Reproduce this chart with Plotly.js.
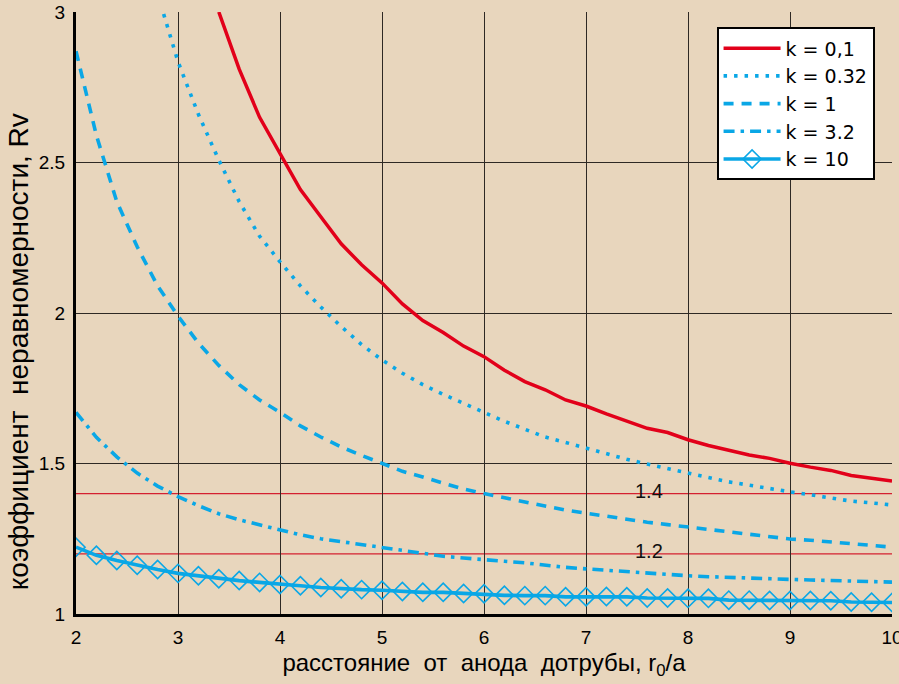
<!DOCTYPE html>
<html>
<head>
<meta charset="utf-8">
<script src="https://cdn.plot.ly/plotly-3.0.1.min.js"></script>
<style>
html,body{margin:0;padding:0;background:#e8d6bd;}
#chart{width:899px;height:684px;}
</style>
</head>
<body>
<div id="chart"></div>
<script>
// r0/a values (step 0.2)
const xFull = [2.0,2.2,2.4,2.6,2.8,3.0,3.2,3.4,3.6,3.8,4.0,4.2,4.4,4.6,4.8,5.0,5.2,5.4,5.6,5.8,6.0,6.2,6.4,6.6,6.8,7.0,7.2,7.4,7.6,7.8,8.0,8.2,8.4,8.6,8.8,9.0,9.2,9.4,9.6,9.8,10.0];

const xK01 = xFull.slice(7);   // from 3.4
const yK01 = [3.0,2.81,2.65,2.53,2.41,2.32,2.23,2.16,2.10,2.03,1.975,1.935,1.89,1.855,1.81,1.772,1.745,1.711,1.691,1.665,1.642,1.617,1.603,1.579,1.560,1.543,1.528,1.517,1.501,1.488,1.477,1.460,1.450,1.442];

const xK032 = xFull.slice(4);  // from 2.8
const yK032 = [3.06,2.835,2.66,2.508,2.37,2.255,2.17,2.09,2.02,1.955,1.895,1.844,1.80,1.762,1.730,1.700,1.667,1.640,1.614,1.588,1.570,1.551,1.531,1.514,1.498,1.483,1.468,1.452,1.439,1.428,1.416,1.406,1.396,1.386,1.375,1.369,1.362];

const yK1 = [2.87,2.59,2.37,2.22,2.09,1.99,1.90,1.826,1.762,1.711,1.670,1.625,1.588,1.555,1.527,1.501,1.474,1.455,1.435,1.415,1.400,1.386,1.372,1.358,1.345,1.335,1.324,1.314,1.305,1.297,1.289,1.282,1.274,1.265,1.256,1.249,1.245,1.240,1.234,1.228,1.222];

const yK32 = [1.67,1.587,1.522,1.468,1.425,1.390,1.360,1.333,1.313,1.296,1.280,1.263,1.250,1.240,1.229,1.219,1.210,1.200,1.192,1.186,1.179,1.175,1.170,1.161,1.155,1.150,1.145,1.141,1.137,1.132,1.127,1.124,1.121,1.118,1.116,1.115,1.113,1.111,1.110,1.108,1.106];

const yK10 = [1.222,1.195,1.178,1.162,1.148,1.135,1.127,1.117,1.111,1.105,1.098,1.094,1.088,1.084,1.081,1.079,1.075,1.072,1.072,1.068,1.067,1.062,1.061,1.061,1.057,1.057,1.058,1.057,1.053,1.053,1.052,1.052,1.046,1.046,1.045,1.045,1.045,1.044,1.040,1.039,1.038];

const seriesNames = ['k = 0,1','k = 0.32','k = 1','k = 3.2','k = 10'];
const refLevels = [1.4, 1.2];
const refLabels = ['1.4', '1.2'];
const refLabelX = 7.62;
const xTicks = [2,3,4,5,6,7,8,9,10];
const yTicks = [1,1.5,2,2.5,3];
const yTickText = ['1','1.5','2','2.5','3'];
const yGrid = [1.5, 2, 2.5];
const xTitle = 'расстояние\u00a0\u00a0от\u00a0\u00a0анода\u00a0\u00a0дотрубы, r<sub>0</sub>/a';
const yTitle = 'коэффициент\u00a0\u00a0неравномерности, Rv';

const RED = '#e2001a';
const BLUE = '#0aa7e6';
const BG = '#e8d6bd';
const GRID = '#2e2924';
const FONT = 'Liberation Sans, Arial, Helvetica, sans-serif';
const NARROW = 'Liberation Sans Narrow, Liberation Sans, Arial, sans-serif';

const traces = [
  {x: xK01, y: yK01, name: seriesNames[0], mode: 'lines', line: {color: RED, width: 3.5}},
  {x: xK032, y: yK032, name: seriesNames[1], mode: 'lines', line: {color: BLUE, width: 3.6, dash: '3.5px,7px'}},
  {x: xFull, y: yK1, name: seriesNames[2], mode: 'lines', line: {color: BLUE, width: 3.6, dash: '10px,8px'}},
  {x: xFull, y: yK32, name: seriesNames[3], mode: 'lines', line: {color: BLUE, width: 3.6, dash: '11px,6px,3.5px,6px'}},
  {x: xFull, y: yK10, name: seriesNames[4], mode: 'lines+markers', line: {color: BLUE, width: 3.6},
   marker: {symbol: 'diamond-open', size: 14, color: BLUE, line: {color: BLUE, width: 1.6}}}
];

const shapes = refLevels.map(v => ({
  type: 'line', xref: 'paper', x0: 0, x1: 1, yref: 'y', y0: v, y1: v,
  line: {color: '#d42030', width: 1.2}, layer: 'below'
}));

const annotations = refLevels.map((v, i) => ({
  x: refLabelX, y: v, xref: 'x', yref: 'y', text: refLabels[i], showarrow: false,
  font: {family: FONT, size: 20, color: '#111'}, yshift: 3
}));
annotations.push({
  xref: 'paper', yref: 'paper', x: -0.071, y: 0.435, xanchor: 'center', yanchor: 'middle',
  text: yTitle, textangle: -90, showarrow: false,
  font: {family: FONT, size: 28, color: '#000'}
});

const layout = {
  width: 899, height: 684,
  paper_bgcolor: BG, plot_bgcolor: BG,
  margin: {l: 76, r: 7, t: 12, b: 70},
  showlegend: true,
  legend: {
    x: 0.785, y: 0.9745, xanchor: 'left', yanchor: 'top',
    bgcolor: '#ffffff', bordercolor: '#000', borderwidth: 2,
    font: {family: 'DejaVu Sans, Liberation Sans, sans-serif', size: 19, color: '#000'},
    itemwidth: 57, tracegroupgap: 0
  },
  xaxis: {
    range: [2, 10], tickvals: xTicks, ticktext: xTicks.map(String),
    showgrid: true, gridcolor: GRID, gridwidth: 1,
    showline: true, linecolor: '#000', linewidth: 3, zeroline: false,
    ticks: '', ticklabelstandoff: 4, ticklabeloverflow: 'allow',
    tickfont: {family: FONT, size: 19, color: '#000'},
    title: {text: xTitle, font: {family: NARROW, size: 24, color: '#000'}, standoff: 8}
  },
  yaxis: {
    range: [1, 3], tickvals: yTicks, ticktext: yTickText,
    showgrid: false,
    minor: {tickvals: yGrid, showgrid: true, gridcolor: GRID, gridwidth: 1, ticks: ''},
    showline: true, linecolor: '#000', linewidth: 3, zeroline: false,
    ticks: '', ticklabelstandoff: 4,
    tickfont: {family: FONT, size: 19, color: '#000'}
  },
  shapes: shapes,
  annotations: annotations
};

Plotly.newPlot('chart', traces, layout, {displayModeBar: false, staticPlot: true});
</script>
</body>
</html>
